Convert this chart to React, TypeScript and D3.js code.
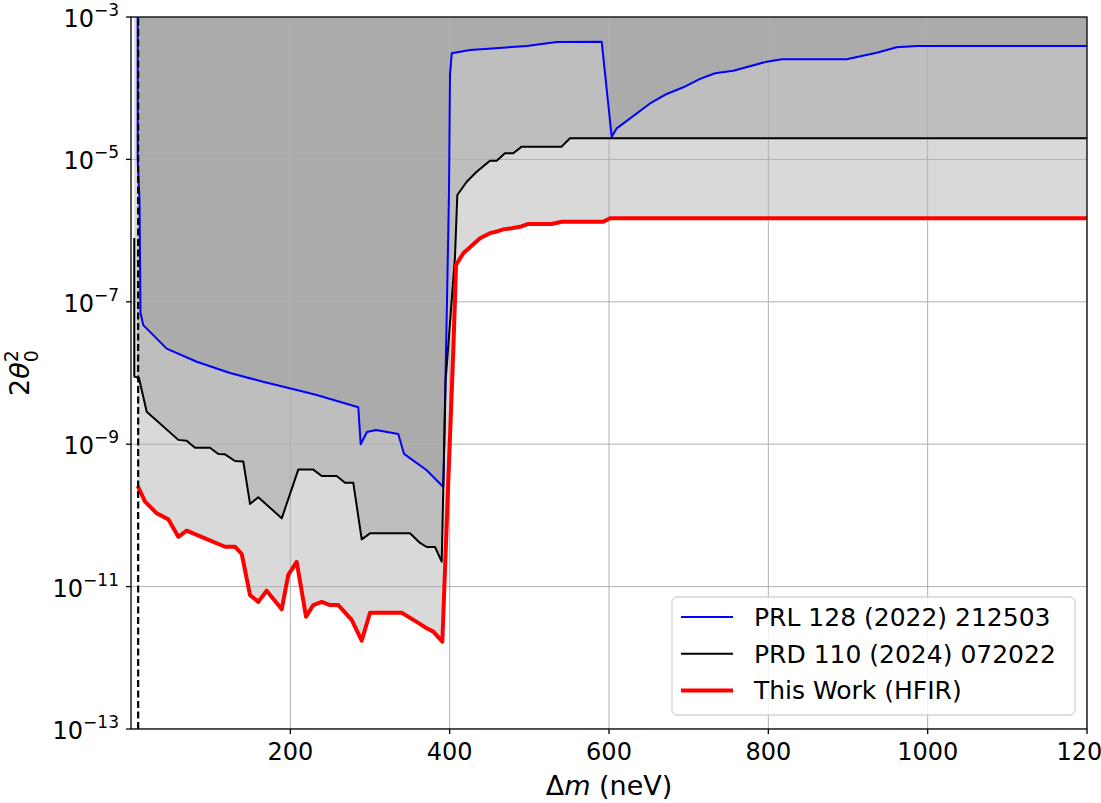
import * as d3 from 'd3';

// PRL 128 (2022) 212503
const prlMass = [8.4, 8.4, 10.7, 11.9, 15.4, 44.8, 82.5, 124.3, 165.7, 208, 233.1, 285.3, 288.3, 296.2, 307.5, 335.5, 342.7, 371.2, 392, 396.7, 399.2, 400.4, 402.6, 425.5, 496.7, 534.4, 590.8, 603.4, 609.7, 651.5, 672.4, 693.3, 714.2, 733.1, 756.1, 798, 816.8, 898.4, 936, 961.1, 986.2, 1200];
const prlTheta = [1e-3, 1e-5, 2.7e-6, 7.0e-8, 4.7e-8, 2.2e-8, 1.44e-8, 1.0e-8, 7.55e-9, 5.77e-9, 4.9e-9, 3.3e-9, 1.0e-9, 1.48e-9, 1.58e-9, 1.39e-9, 7.3e-10, 4.3e-10, 2.5e-10, 1.06e-7, 3.7e-6, 1.53e-4, 3.1e-4, 3.44e-4, 3.92e-4, 4.45e-4, 4.5e-4, 2.08e-5, 2.73e-5, 6.1e-5, 8.3e-5, 1.03e-4, 1.35e-4, 1.62e-4, 1.76e-4, 2.36e-4, 2.55e-4, 2.55e-4, 3.15e-4, 3.75e-4, 3.92e-4, 3.92e-4];

// PRD 110 (2024) 072022
const prdMass = [4.1, 4.1, 10, 19.7, 59.4, 69.9, 80.3, 99.2, 109.6, 118, 130.5, 141, 149.4, 159.8, 189.2, 210, 228.8, 239.4, 258.2, 268.6, 279, 289.6, 300, 350.2, 362.8, 371.2, 381.6, 390, 395, 406.7, 409.6, 421.4, 433.9, 450.6, 459, 469.4, 479.9, 490.4, 540.6, 551, 1200];
const prdTheta = [7.9e-7, 8.9e-9, 8.5e-9, 2.86e-9, 1.15e-9, 1.12e-9, 8.9e-10, 8.9e-10, 7.3e-10, 7.2e-10, 5.8e-10, 5.7e-10, 1.45e-10, 1.8e-10, 9.1e-11, 4.4e-10, 4.4e-10, 3.57e-10, 3.57e-10, 2.88e-10, 2.88e-10, 4.6e-11, 5.6e-11, 5.6e-11, 4.1e-11, 3.6e-11, 3.6e-11, 2.24e-11, 8.0e-9, 4.3e-7, 3.16e-6, 4.86e-6, 6.7e-6, 9.6e-6, 9.6e-6, 1.22e-5, 1.22e-5, 1.51e-5, 1.51e-5, 1.98e-5, 1.98e-5];

// This Work (HFIR)
const hfirMass = [8.4, 17.6, 32.3, 46.8, 59.4, 69.9, 92.9, 118, 130.5, 139, 149.4, 159.8, 170.3, 189.2, 197.4, 208, 219.7, 228.8, 239.4, 249.8, 260.2, 277, 289.6, 300, 339.8, 358.6, 371.2, 379.5, 390.8, 398.3, 404.6, 408, 417.1, 438.1, 450.6, 459, 467.3, 477.9, 488.3, 498.7, 528.1, 540.6, 592.9, 601.3, 1200];
const hfirTheta = [2.59e-10, 1.56e-10, 1.07e-10, 8.8e-11, 5.0e-11, 6.1e-11, 4.77e-11, 3.63e-11, 3.63e-11, 2.87e-11, 7.6e-12, 6.1e-12, 8.75e-12, 4.8e-12, 1.46e-11, 2.22e-11, 3.78e-12, 5.5e-12, 6.1e-12, 5.5e-12, 5.5e-12, 3.4e-12, 1.74e-12, 4.3e-12, 4.3e-12, 3.2e-12, 2.6e-12, 2.33e-12, 1.68e-12, 3.1e-10, 2.1e-8, 3.3e-7, 4.8e-7, 7.8e-7, 9.2e-7, 9.7e-7, 1.04e-6, 1.08e-6, 1.13e-6, 1.24e-6, 1.24e-6, 1.33e-6, 1.33e-6, 1.49e-6, 1.49e-6];

const dashedMass = 9;
const xTicks = [200, 400, 600, 800, 1000, 1200];
const yTickExps = [-3, -5, -7, -9, -11, -13];

const seriesNames = ['PRL 128 (2022) 212503', 'PRD 110 (2024) 072022', 'This Work (HFIR)'];
const seriesColors = ['#0000ff', '#000000', '#ff0000'];
const seriesWidths = [2, 2, 4];

const width = 1101;
const height = 803;
const margin = { top: 17, right: 14, bottom: 74, left: 131 };
const font = 'DejaVu Sans, sans-serif';

const App = () => {
  const x = d3.scaleLinear().domain([0, 1200]).range([margin.left, width - margin.right]);
  const y = d3.scaleLog().domain([1e-13, 1e-3]).range([height - margin.bottom, margin.top]);
  const [x0, x1] = x.range();
  const [yb, yt] = y.range();

  const series = [
    prlMass.map((m, i) => [m, prlTheta[i]] as [number, number]),
    prdMass.map((m, i) => [m, prdTheta[i]] as [number, number]),
    hfirMass.map((m, i) => [m, hfirTheta[i]] as [number, number]),
  ];

  const area = d3.area<[number, number]>()
    .x(d => x(d[0]))
    .y0(yt)
    .y1(d => y(d[1]));
  const line = d3.line<[number, number]>()
    .x(d => x(d[0]))
    .y(d => y(d[1]));

  // excluded regions stack up: red, then black, then blue, each gray at 0.3
  const fillOrder = [2, 1, 0];

  const legend = { x: 672, y: 597, w: 403, h: 118 };

  return (
    <div style={{ position: 'absolute', left: 0, top: 0 }}>
      <svg width={width} height={height} style={{ display: 'block', background: '#fff' }} fontFamily={font}>
        <defs>
          <clipPath id="plot">
            <rect x={x0} y={yt} width={x1 - x0} height={yb - yt} />
          </clipPath>
        </defs>
        <g clipPath="url(#plot)">
          {fillOrder.map(i => (
            <path key={'f' + i} d={area(series[i]) || ''} fill="#808080" fillOpacity={0.3} stroke="none" />
          ))}
          {xTicks.map(t => (
            <line key={'gx' + t} x1={x(t)} x2={x(t)} y1={yt} y2={yb} stroke="#b0b0b0" strokeWidth={1} />
          ))}
          {yTickExps.map(e => (
            <line key={'gy' + e} x1={x0} x2={x1} y1={y(Math.pow(10, e))} y2={y(Math.pow(10, e))} stroke="#b0b0b0" strokeWidth={1} />
          ))}
          {series.map((s, i) => (
            <path key={'l' + i} d={line(s) || ''} fill="none" stroke={seriesColors[i]} strokeWidth={seriesWidths[i]} strokeLinejoin="round" />
          ))}
          <line x1={x(dashedMass)} x2={x(dashedMass)} y1={yb} y2={yt} stroke="#000" strokeWidth={2.2} strokeDasharray="7,3.5" />
        </g>

        {/* spines */}
        <rect x={x0} y={yt} width={x1 - x0} height={yb - yt} fill="none" stroke="#000" strokeWidth={1.3} />

        {/* x ticks */}
        {xTicks.map(t => (
          <g key={'xt' + t}>
            <line x1={x(t)} x2={x(t)} y1={yb} y2={yb + 5} stroke="#000" strokeWidth={1.3} />
            <text x={x(t)} y={760} textAnchor="middle" fontSize={24} fill="#000">{t}</text>
          </g>
        ))}

        {/* y ticks */}
        {yTickExps.map(e => {
          const py = y(Math.pow(10, e));
          return (
            <g key={'yt' + e}>
              <line x1={x0 - 5} x2={x0} y1={py} y2={py} stroke="#000" strokeWidth={1.3} />
              <text x={119} y={py + 10} textAnchor="end" fontSize={24} fill="#000">
                10<tspan fontSize={17} dy={-11}>{'\u2212' + Math.abs(e)}</tspan>
              </text>
            </g>
          );
        })}

        {/* axis labels */}
        <text x={(x0 + x1) / 2} y={795} textAnchor="middle" fontSize={27} fill="#000">
          Δ<tspan fontStyle="italic">m</tspan> (neV)
        </text>
        <text transform={`translate(29,${(yt + yb) / 2}) rotate(-90)`} textAnchor="middle" fontSize={27} fill="#000">
          2<tspan fontStyle="italic">θ</tspan>
          <tspan fontSize={19} dy={-11}>2</tspan>
          <tspan fontSize={19} dx={-12} dy={20}>0</tspan>
        </text>

        {/* legend */}
        <rect x={legend.x} y={legend.y} width={legend.w} height={legend.h} rx={5} fill="#fff" fillOpacity={0.8} stroke="#cccccc" strokeOpacity={0.8} strokeWidth={1.3} />
        {seriesNames.map((name, i) => {
          const ly = legend.y + 20 + i * 36.7;
          return (
            <g key={'lg' + i}>
              <line x1={681} x2={733} y1={ly} y2={ly} stroke={seriesColors[i]} strokeWidth={seriesWidths[i]} />
              <text x={754} y={ly + 9} fontSize={25} fill="#000">{name}</text>
            </g>
          );
        })}
      </svg>
    </div>
  );
};

export default App;
